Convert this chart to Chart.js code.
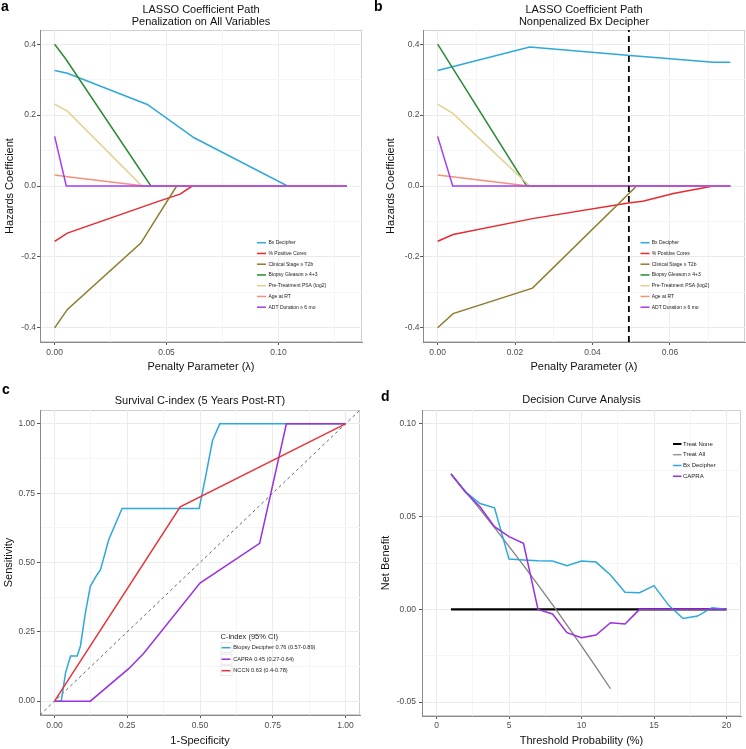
<!DOCTYPE html>
<html>
<head>
<meta charset="utf-8">
<title>LASSO paths, C-index and decision curves</title>
<script src="https://cdn.jsdelivr.net/npm/chart.js@4.4.1/dist/chart.umd.min.js"></script>
<style>
  body { margin: 0; background: #fff; }
  #wrap { position: relative; width: 746px; height: 749px; overflow: hidden; font-family: "Liberation Sans", Arial, Helvetica, sans-serif; }
  #wrap canvas { position: absolute; }
  .tag { position: absolute; font-weight: bold; font-size: 14px; line-height: 1; color: #000; }
</style>
</head>
<body>
<div id="wrap">
  <canvas id="chartA" width="373" height="376" style="left:0;top:0"></canvas>
  <canvas id="chartB" width="373" height="376" style="left:373px;top:0"></canvas>
  <canvas id="chartC" width="373" height="373" style="left:0;top:376px"></canvas>
  <canvas id="chartD" width="373" height="373" style="left:373px;top:376px"></canvas>
  <div class="tag" style="left:1px;top:-1px">a</div>
  <div class="tag" style="left:374px;top:-1px">b</div>
  <div class="tag" style="left:2px;top:382px">c</div>
  <div class="tag" style="left:381px;top:389px">d</div>
</div>
<script>
// ---- data ----
const lassoLabels = ["Bx Decipher", "% Positive Cores", "Clinical Stage \u2265 T2b", "Biopsy Gleason \u2265 4+3",
                     "Pre-Treatment PSA (log2)", "Age at RT", "ADT Duration \u2265 6 mo"];

// panel a: [lambda, coefficient], all variables penalized
const aBxDecipher = [[0, 0.326], [0.0057, 0.318], [0.0414, 0.230], [0.0623, 0.136], [0.104, 0], [0.1306, 0]];
const aPosCores   = [[0, -0.156], [0.0057, -0.133], [0.046, -0.044], [0.056, -0.023], [0.0615, 0], [0.1306, 0]];
const aStage      = [[0, -0.4], [0.0057, -0.348], [0.0385, -0.161], [0.0545, 0], [0.1306, 0]];
const aGleason    = [[0, 0.4], [0.0049, 0.359], [0.043, 0], [0.1306, 0]];
const aPSA        = [[0, 0.231], [0.0057, 0.211], [0.039, 0], [0.1306, 0]];
const aAge        = [[0, 0.031], [0.0057, 0.026], [0.04, 0], [0.1306, 0]];
const aADT        = [[0, 0.14], [0.0052, 0], [0.1306, 0]];

// panel b: Bx Decipher not penalized
const bBxDecipher = [[0, 0.326], [0.0238, 0.392], [0.0497, 0.368], [0.0712, 0.349], [0.0756, 0.349]];
const bPosCores   = [[0, -0.156], [0.004, -0.137], [0.0245, -0.092], [0.0497, -0.047], [0.053, -0.043], [0.0609, -0.021], [0.0712, 0], [0.0756, 0]];
const bStage      = [[0, -0.4], [0.004, -0.36], [0.0245, -0.288], [0.0514, 0], [0.0756, 0]];
const bGleason    = [[0, 0.4], [0.023, 0], [0.0756, 0]];
const bPSA        = [[0, 0.231], [0.004, 0.204], [0.0238, 0], [0.0756, 0]];
const bAge        = [[0, 0.031], [0.0235, 0], [0.0756, 0]];
const bADT        = [[0, 0.14], [0.0039, 0], [0.0756, 0]];
const bLambdaSelected = 0.0494;

// panel c: [1-specificity, sensitivity]
const cBiopsyDecipher = [[0, 0], [0.023, 0], [0.038, 0.103], [0.055, 0.163], [0.078, 0.163], [0.089, 0.199],
  [0.106, 0.318], [0.123, 0.414], [0.146, 0.456], [0.158, 0.474], [0.186, 0.581], [0.232, 0.695],
  [0.497, 0.695], [0.517, 0.797], [0.543, 0.94], [0.568, 1], [1, 1]];
const cCapra = [[0, 0], [0.123, 0], [0.255, 0.117], [0.306, 0.172], [0.5, 0.426], [0.705, 0.569], [0.797, 1], [1, 1]];
const cNccn  = [[0, 0], [0.432, 0.701], [1, 1]];
const cChance = [[-0.05, -0.05], [1.05, 1.05]];
const cLabels = ["Biopsy Decipher 0.76 (0.57-0.89)", "CAPRA 0.45 (0.27-0.64)", "NCCN 0.63 (0.4-0.78)"];

// panel d: net benefit by threshold probability (%)
const dThreshold   = [1, 2, 3, 4, 5, 6, 7, 8, 9, 10, 11, 12, 13, 14, 15, 16, 17, 18, 19, 20];
const dTreatNone   = [0, 0, 0, 0, 0, 0, 0, 0, 0, 0, 0, 0, 0, 0, 0, 0, 0, 0, 0, 0];
const dTreatAll    = [0.073, 0.0636, 0.0539, 0.0441, 0.034, 0.0237, 0.0132, 0.0025, -0.0085, -0.0197, -0.0311, -0.0428];
const dBxDecipher  = [0.073, 0.0634, 0.0571, 0.0548, 0.0271, 0.0266, 0.0262, 0.0261, 0.0235, 0.0261,
                      0.0255, 0.0185, 0.0092, 0.009, 0.0128, 0.0023, -0.0049, -0.0036, 0.0009, 0];
const dCapra       = [0.073, 0.0632, 0.0553, 0.0446, 0.0392, 0.0356, 0, -0.0025, -0.0126, -0.0153,
                      -0.0138, -0.0072, -0.0079, 0, 0, 0, 0, 0, 0, 0];

// tick values / labels
const lassoYTicks = [-0.4, -0.2, 0, 0.2, 0.4];
const lassoYLabels = ["-0.4", "-0.2", "0.0", "0.2", "0.4"];
const aXTicks = [0, 0.05, 0.10];
const aXLabels = ["0.00", "0.05", "0.10"];
const bXTicks = [0, 0.02, 0.04, 0.06];
const bXLabels = ["0.00", "0.02", "0.04", "0.06"];
const rocTicks = [0, 0.25, 0.5, 0.75, 1];
const rocLabels = ["0.00", "0.25", "0.50", "0.75", "1.00"];
const dXTicks = [0, 5, 10, 15, 20];
const dXLabels = ["0", "5", "10", "15", "20"];
const dYTicks = [-0.05, 0, 0.05, 0.10];
const dYLabels = ["-0.05", "0.00", "0.05", "0.10"];

// ---- styling ----
const FAMILY = '"Liberation Sans", Arial, Helvetica, sans-serif';
Chart.defaults.font.family = FAMILY;
const lassoColors = ["#2ea8db", "#e8292f", "#8f7b2c", "#2a8a35", "#e3cf8f", "#f5917b", "#a63cf2"];

// light grey frame round the panel (ggplot panel border)
const frame = {
  id: "frame",
  beforeDraw(chart) {
    const a = chart.chartArea, ctx = chart.ctx;
    ctx.save();
    ctx.strokeStyle = "#cfcfcf";
    ctx.lineWidth = 1;
    ctx.strokeRect(Math.round(a.left) + 0.5, Math.round(a.top) + 0.5, Math.round(a.right - a.left) - 1, Math.round(a.bottom - a.top) - 1);
    ctx.restore();
  }
};

// small ggplot-like legend drawn inside the panel
const keyLegend = {
  id: "keyLegend",
  afterDatasetsDraw(chart, args, o) {
    if (!o || !o.x) return;
    const ctx = chart.ctx;
    ctx.save();
    ctx.textBaseline = "middle";
    ctx.textAlign = "left";
    ctx.fillStyle = "#1a1a1a";
    if (o.title) {
      ctx.font = o.titleSize + "px " + FAMILY;
      ctx.fillText(o.title, o.x, o.titleY);
    }
    ctx.font = o.fontSize + "px " + FAMILY;
    chart.data.datasets.filter(d => !d.noKey).forEach((d, i) => {
      const cy = o.y + i * o.rowHeight;
      if (o.keyBox) {
        ctx.strokeStyle = "#dedede";
        ctx.lineWidth = 0.7;
        ctx.strokeRect(o.x + 0.5, cy - o.rowHeight / 2 + 0.8, o.keyWidth, o.rowHeight - 1.6);
      }
      ctx.strokeStyle = d.borderColor;
      ctx.lineWidth = d.keyWidth || 1.5;
      ctx.beginPath();
      ctx.moveTo(o.x + o.keyInset, cy);
      ctx.lineTo(o.x + o.keyWidth - o.keyInset, cy);
      ctx.stroke();
      ctx.fillStyle = "#1a1a1a";
      ctx.fillText(d.label, o.textX, cy);
    });
    ctx.restore();
  }
};

// linear axis with ggplot style major + minor grid
function axis(p) {
  const horiz = p.position === "bottom";
  return {
    type: "linear",
    position: p.position,
    min: p.min,
    max: p.max,
    afterBuildTicks(scale) {
      const t = p.ticks, step = t[1] - t[0], out = [];
      if (t[0] - step / 2 >= p.min) out.push({ value: t[0] - step / 2 });
      t.forEach((v, i) => {
        out.push({ value: v, major: true });
        const m = i < t.length - 1 ? (v + t[i + 1]) / 2 : v + step / 2;
        if (m <= p.max) out.push({ value: m });
      });
      scale.ticks = out;
    },
    afterFit(scale) {
      if (horiz) scale.height = p.size; else scale.width = p.size;
    },
    grid: {
      color: c => (c.tick && c.tick.major) ? "#ebebeb" : "#f5f5f5",
      tickColor: c => (c.tick && c.tick.major) ? "#555" : "rgba(0,0,0,0)",
      tickLength: 3,
      lineWidth: 1
    },
    border: { display: true, color: "#8a8a8a", width: 1 },
    ticks: {
      autoSkip: false,
      maxRotation: 0,
      padding: p.tickPad,
      color: "#4d4d4d",
      font: { size: 8.5, lineHeight: 1.2 },
      callback: v => {
        const k = p.ticks.findIndex(t => Math.abs(t - v) < 1e-9);
        return k >= 0 ? p.labels[k] : "";
      }
    },
    title: {
      display: true,
      text: p.title,
      color: "#111",
      font: { size: 11, lineHeight: 1.2 },
      padding: horiz ? { top: 0, bottom: p.titlePad } : { top: p.titlePad, bottom: 0 }
    }
  };
}

function lines(series) {
  return series.map((s, i) => Object.assign({
    borderWidth: 1.5,
    pointRadius: 0,
    fill: false,
    tension: 0,
    order: -i
  }, s));
}

function baseOptions(p) {
  return {
    responsive: false,
    animation: false,
    events: [],
    devicePixelRatio: 1,
    layout: { padding: { left: 0, right: p.padRight, top: 0, bottom: 0 } },
    plugins: {
      legend: { display: false },
      tooltip: { enabled: false },
      title: {
        display: true,
        text: p.title,
        fullSize: false,
        color: "#111",
        font: { size: 11, lineHeight: 12 / 11, weight: "normal" },
        padding: p.titlePad
      },
      keyLegend: p.legend
    },
    scales: { x: p.x, y: p.y }
  };
}

// panel a
new Chart(document.getElementById("chartA"), {
  type: "line",
  data: {
    datasets: lines([aBxDecipher, aPosCores, aStage, aGleason, aPSA, aAge, aADT].map((d, i) => ({
      label: lassoLabels[i], data: d, borderColor: lassoColors[i]
    })))
  },
  options: baseOptions({
    padRight: 11,
    title: ["LASSO Coefficient Path", "Penalization on All Variables"],
    titlePad: { top: 4, bottom: 2 },
    legend: { x: 257, y: 242.7, rowHeight: 10.75, fontSize: 5, keyWidth: 9, keyInset: 0, textX: 268.5 },
    x: axis({ position: "bottom", min: -0.00654, max: 0.1373, ticks: aXTicks, labels: aXLabels,
              title: "Penalty Parameter (\u03bb)", size: 34, tickPad: 3, titlePad: 2.4 }),
    y: axis({ position: "left", min: -0.44, max: 0.44, ticks: lassoYTicks, labels: lassoYLabels,
              title: "Hazards Coefficient", size: 40, tickPad: 1, titlePad: 3.4 })
  }),
  plugins: [frame, keyLegend]
});

// panel b
new Chart(document.getElementById("chartB"), {
  type: "line",
  data: {
    datasets: lines([bBxDecipher, bPosCores, bStage, bGleason, bPSA, bAge, bADT].map((d, i) => ({
      label: lassoLabels[i], data: d, borderColor: lassoColors[i]
    })).concat([{
      label: "selected \u03bb", noKey: true, data: [[bLambdaSelected, -0.44], [bLambdaSelected, 0.44]],
      borderColor: "#000", borderWidth: 1.8, borderDash: [6, 4]
    }]))
  },
  options: baseOptions({
    padRight: 1,
    title: ["LASSO Coefficient Path", "Nonpenalized Bx Decipher"],
    titlePad: { top: 4, bottom: 2 },
    legend: { x: 267.5, y: 242.7, rowHeight: 10.75, fontSize: 5, keyWidth: 9, keyInset: 0, textX: 278.7 },
    x: axis({ position: "bottom", min: -0.00378, max: 0.0794, ticks: bXTicks, labels: bXLabels,
              title: "Penalty Parameter (\u03bb)", size: 34, tickPad: 3, titlePad: 2.4 }),
    y: axis({ position: "left", min: -0.44, max: 0.44, ticks: lassoYTicks, labels: lassoYLabels,
              title: "Hazards Coefficient", size: 50, tickPad: 0.5, titlePad: 11.4 })
  }),
  plugins: [frame, keyLegend]
});

// panel c
new Chart(document.getElementById("chartC"), {
  type: "line",
  data: {
    datasets: lines([
      { label: "chance", noKey: true, data: cChance, borderColor: "#555", borderWidth: 0.9, borderDash: [3, 3] },
      { label: cLabels[0], data: cBiopsyDecipher, borderColor: "#2ea8db" },
      { label: cLabels[1], data: cCapra, borderColor: "#9a2fe0" },
      { label: cLabels[2], data: cNccn, borderColor: "#e8333a" }
    ])
  },
  options: baseOptions({
    padRight: 13,
    title: "Survival C-index (5 Years Post-RT)",
    titlePad: { top: 18.7, bottom: 3.3 },
    legend: { x: 220.5, y: 271.7, rowHeight: 11.5, fontSize: 5.6, keyWidth: 11, keyInset: 1, textX: 233.3,
              keyBox: true, title: "C-index (95% CI)", titleSize: 7.5, titleY: 261.3 },
    x: axis({ position: "bottom", min: -0.05, max: 1.05, ticks: rocTicks, labels: rocLabels,
              title: "1-Specificity", size: 34, tickPad: 2.9, titlePad: 1.7 }),
    y: axis({ position: "left", min: -0.05, max: 1.05, ticks: rocTicks, labels: rocLabels,
              title: "Sensitivity", size: 40, tickPad: 2, titlePad: 2.4 })
  }),
  plugins: [frame, keyLegend]
});

// panel d
const toXY = ys => ys.map((y, i) => [dThreshold[i], y]);
new Chart(document.getElementById("chartD"), {
  type: "line",
  data: {
    datasets: lines([
      { label: "Treat None", data: toXY(dTreatNone), borderColor: "#000", borderWidth: 2.2, keyWidth: 2 },
      { label: "Treat All", data: toXY(dTreatAll), borderColor: "#808080", borderWidth: 1.3, keyWidth: 1.2 },
      { label: "Bx Decipher", data: toXY(dBxDecipher), borderColor: "#2ea8db" },
      { label: "CAPRA", data: toXY(dCapra), borderColor: "#9a2fe0" }
    ])
  },
  options: baseOptions({
    padRight: 5,
    title: "Decision Curve Analysis",
    titlePad: { top: 18, bottom: 4 },
    legend: { x: 300, y: 68, rowHeight: 10.75, fontSize: 6, keyWidth: 8.5, keyInset: 0, textX: 310 },
    x: axis({ position: "bottom", min: -1, max: 21, ticks: dXTicks, labels: dXLabels,
              title: "Threshold Probability (%)", size: 33, tickPad: 1.9, titlePad: 1.7 }),
    y: axis({ position: "left", min: -0.0575, max: 0.1075, ticks: dYTicks, labels: dYLabels,
              title: "Net Benefit", size: 49, tickPad: 3, titlePad: 5.9 })
  }),
  plugins: [frame, keyLegend]
});
</script>
</body>
</html>
